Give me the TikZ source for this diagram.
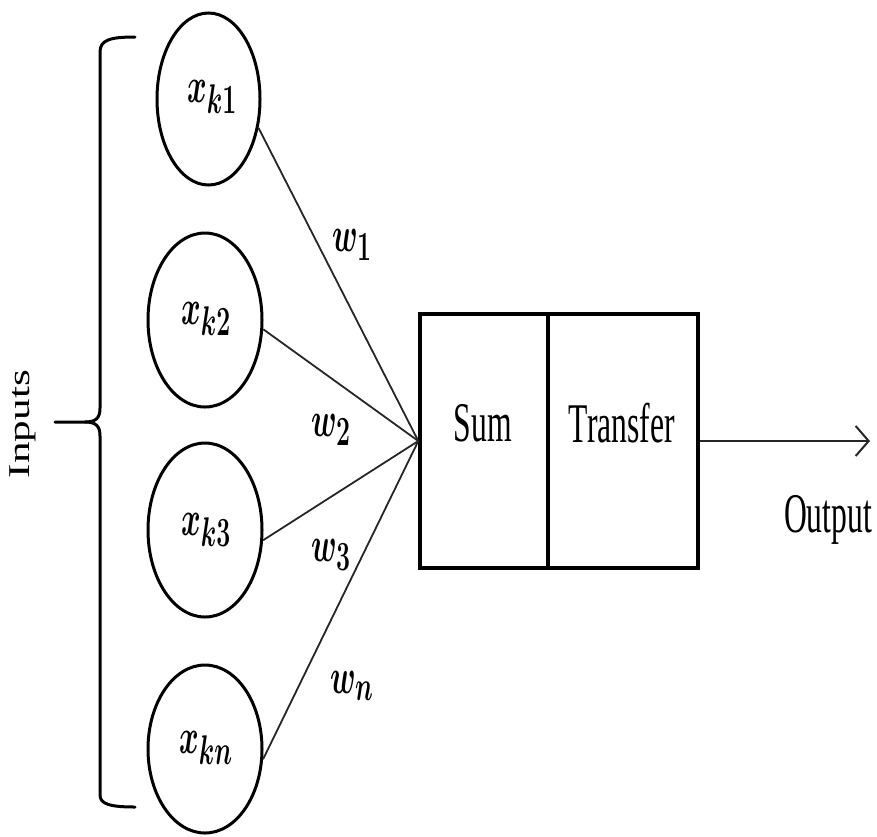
\documentclass[tikz,border=0pt]{standalone}
\usepackage{fontspec}
\setmainfont{Liberation Serif}
\usepackage{graphicx}
\usetikzlibrary{shapes.geometric,arrows.meta}
\newcommand\squish[1]{\scalebox{0.565}[1]{#1}}
\newcommand\msquish[1]{\scalebox{0.6}[1]{\boldmath$#1$}}
\begin{document}
\begin{tikzpicture}[x=0.5pt,y=-0.5pt,
  inp/.style={ellipse,draw,line width=1.5pt,inner sep=0pt},
  blk/.style={rectangle,draw,line width=1.7pt,inner sep=0pt,minimum height=127pt},
  conn/.style={line width=0.9pt,draw=black!85},
  lbl/.style={inner sep=0pt,font=\fontsize{28}{30}\selectfont},
  brc/.style={line width=1.5pt,line cap=round}]
\useasboundingbox (0,0) rectangle (877,836);
% input ellipses
\node[inp,minimum width=51.5pt,minimum height=86pt] (k1) at (208.5,99) {};
\node[inp,minimum width=57pt,minimum height=87pt] (k2) at (205,320) {};
\node[inp,minimum width=57pt,minimum height=87pt] (k3) at (205,530) {};
\node[inp,minimum width=57pt,minimum height=84pt] (kn) at (205,749) {};
\node[lbl] (t1) at (212,97) {\msquish{x_{k1}}};
\node[lbl] (t2) at (206,319) {\msquish{x_{k2}}};
\node[lbl] (t3) at (206,530) {\msquish{x_{k3}}};
\node[lbl] (tn) at (206,748) {\msquish{x_{kn}}};
% blocks
\node[blk,minimum width=64pt] (sum) at (484,441) {};
\node[blk,minimum width=75pt] (tr) at (623,441) {};
\node[lbl] (sumt) at (483,423) {\squish{Sum}};
\node[lbl] (trt) at (622,423) {\squish{Transfer}};
% connectors
\draw[conn] (k1.-30) -- (sum.west);
\draw[conn] (k2.-9) -- (sum.west);
\draw[conn] (k3.-10) -- (sum.west);
\draw[conn] (kn.-10) -- (sum.west);
% weights
\node[lbl] (w1) at (352,245) {\msquish{w_1}};
\node[lbl] (w2) at (331,430) {\msquish{w_2}};
\node[lbl] (w3) at (331,555) {\msquish{w_3}};
\node[lbl] (wn) at (352,686) {\msquish{w_n}};
% output
\coordinate (outend) at (870,441);
\draw[conn,-{Straight Barb[length=6.5pt,width=15pt,line width=1pt]}] (tr.east) -- (outend);
\node[lbl] (outt) at (828,520) {\squish{Output}};
% brace
\draw[brc] (135,37) .. controls (110,37) and (100,40) .. (100,52)
  -- (100,408) .. controls (100,418) and (96,422) .. (85,422) -- (55,422);
\draw[brc] (85,422) .. controls (96,422) and (100,426) .. (100,436)
  -- (100,795) .. controls (100,804) and (110,807) .. (135,807);
\node[inner sep=0pt] (inputs) at (23,424) {\scalebox{0.7}[1]{\rotatebox{90}{\fontsize{21.6}{24}\selectfont Inputs}}};
\end{tikzpicture}
\end{document}
